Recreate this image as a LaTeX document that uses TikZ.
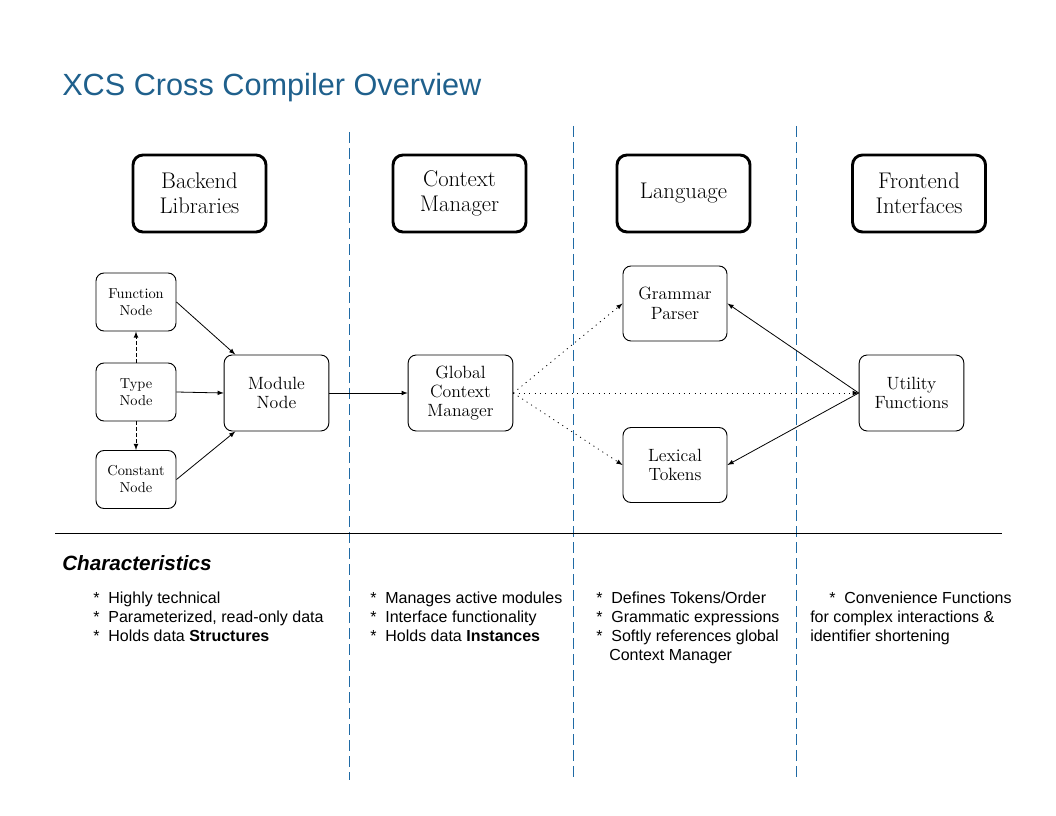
\documentclass[tikz,border=0pt]{standalone}
\usepackage{fontspec}
\usepackage{tikz}
\usepackage{xcolor}
\usetikzlibrary{shapes.geometric, positioning, arrows}
\newfontfamily\notefont{Liberation Sans}
\definecolor{titleblue}{RGB}{31,96,140}
\definecolor{laneblue}{RGB}{31,106,165}

\tikzset{
  headbox/.style={draw, line width=2.2pt, rounded corners=7.5pt, minimum width=99.75pt,
    minimum height=57.75pt, align=center, font=\fontsize{17}{18.5}\selectfont},
  smallbox/.style={draw, line width=0.7pt, rounded corners=6pt, minimum width=60pt,
    minimum height=43.5pt, align=center, font=\fontsize{10.8}{12.75}\selectfont},
  midbox/.style={draw, line width=0.7pt, rounded corners=6pt, minimum width=78.5pt,
    minimum height=57pt, align=center, font=\fontsize{13.3}{14.5}\selectfont},
  lane/.style={laneblue, line width=0.7pt, dash pattern=on 8pt off 4pt},
  notes/.style={align=left, anchor=base west, inner sep=0pt,
    font=\notefont\fontsize{12}{14.25}\selectfont},
  link/.style={-latex, line width=0.6pt},
  hint/.style={-latex, line width=0.6pt, dash pattern=on 0.8pt off 3.2pt},
}

\begin{document}
\begin{tikzpicture}[x=0.75pt, y=-0.75pt]
\useasboundingbox (0,0) rectangle (1056,816);

% title
\node[anchor=base west, inner sep=0pt, text=titleblue,
  font=\notefont\fontsize{23}{27}\selectfont] (title) at (62,96) {XCS Cross Compiler Overview};

% lanes
\draw[lane] (349,132) -- (349,780);
\draw[lane] (573,126) -- (573,777);
\draw[lane] (796,126) -- (796,777);

% column heads
\node[headbox] (backend) at (199.5,193.5) {Backend\\Libraries};
\node[headbox] (context) at (459.5,193.5) {Context\\Manager};
\node[headbox] (language) at (683.5,193.5) {Language};
\node[headbox] (frontend) at (919,193.5) {Frontend\\Interfaces};

% backend nodes
\node[smallbox] (func) at (136,302) {Function\\Node};
\node[smallbox] (type) at (136,392) {Type\\Node};
\node[smallbox] (const) at (136,479.5) {Constant\\Node};
\node[midbox] (module) at (276.5,393) {Module\\Node};

% context, language, frontend nodes
\node[midbox] (gcm) at (460.5,393) {Global\\Context\\Manager};
\node[midbox, minimum width=78pt, minimum height=56.25pt] (grammar) at (675,303.5) {Grammar\\Parser};
\node[midbox, minimum width=78pt, minimum height=56.25pt] (lexical) at (675,465) {Lexical\\Tokens};
\node[midbox] (utility) at (911.5,393) {Utility\\Functions};

% connectors
\draw[link] (func.east) -- (module.137.5);
\draw[link] (type.east) -- (module.west);
\draw[link] (const.east) -- (module.-137.5);
\draw[-latex, line width=0.6pt, dash pattern=on 2.5pt off 2pt] (type.north) -- (func.south);
\draw[-latex, line width=0.6pt, dash pattern=on 2.5pt off 2pt] (type.south) -- (const.north);
\draw[link] (module.east) -- (gcm.west);
\draw[hint] (gcm.east) -- (grammar.west);
\draw[hint] (gcm.east) -- (lexical.west);
\draw[hint] (gcm.east) -- (utility.west);
\draw[link] (utility.west) -- (grammar.east);
\draw[link] (utility.west) -- (lexical.east);

% rule
\draw[line width=0.75pt] (55,533) -- (1002,533);

% characteristics (base = last line)
\node[anchor=base west, inner sep=0pt,
  font=\notefont\fontsize{15.5}{18}\selectfont\bfseries\itshape] (charhead) at (62,570) {Characteristics};
\node[notes] (backnotes) at (93,641) {*~~Highly technical\\*~~Parameterized, read-only data\\*~~Holds data \textbf{Structures}};
\node[notes] (ctxnotes) at (370,641) {*~~Manages active modules\\*~~Interface functionality\\*~~Holds data \textbf{Instances}};
\node[notes] (langnotes) at (596,660) {*~~Defines Tokens/Order\\*~~Grammatic expressions\\*~~Softly references global\\\hspace*{9.75pt}Context Manager};
\node[notes] (frontnotes) at (810,641) {\hspace*{14.25pt}*~~Convenience Functions\\for complex interactions \&\\identifier shortening};
\end{tikzpicture}
\end{document}
